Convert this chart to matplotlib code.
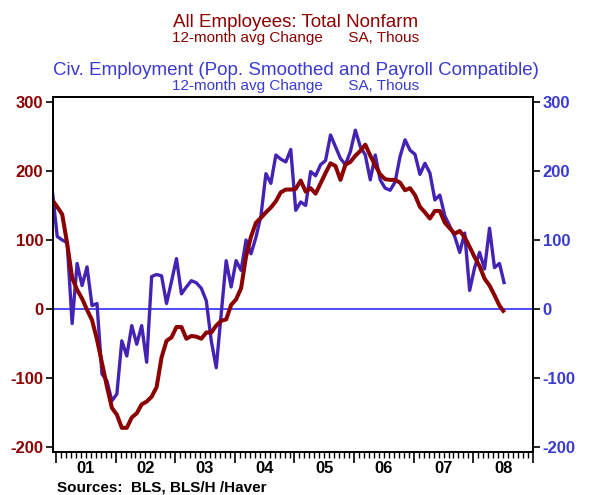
import numpy as np
import matplotlib
matplotlib.use("Agg")
import matplotlib.pyplot as plt
from matplotlib.transforms import blended_transform_factory

# Monthly data, Dec 2000 .. Jul 2008 (12-month avg change, SA, thous)
start_year = 2000
start_month = 12
nonfarm = [158, 148, 137, 95, 45, 28, 15, -1, -16, -44, -78, -112, -143,
           -153, -172, -172, -157, -151, -138, -134, -127, -113, -70, -46, -41,
           -26, -26, -43, -39, -40, -43, -34, -34, -24, -17, -15, 6,
           14, 30, 76, 105, 125, 132, 140, 147, 156, 169, 173, 173,
           174, 186, 170, 175, 167, 182, 197, 211, 207, 187, 209, 213,
           222, 229, 238, 222, 208, 195, 188, 187, 187, 183, 172, 175,
           165, 148, 140, 131, 142, 142, 125, 117, 109, 113, 104, 90,
           75, 62, 44, 34, 20, 5, -5]
civ_emp = [172, 105, 100, 96, -21, 66, 34, 61, 5, 8, -94, -104, -133,
           -123, -46, -68, -24, -51, -24, -77, 47, 50, 48, 8, 40,
           73, 22, 32, 41, 38, 30, 12, -46, -85, -7, 70, 32,
           70, 56, 100, 80, 104, 135, 196, 182, 223, 217, 213, 231,
           143, 155, 150, 199, 193, 209, 215, 252, 235, 218, 209, 228,
           259, 235, 223, 187, 223, 187, 175, 172, 184, 221, 245, 230,
           224, 195, 211, 197, 158, 165, 135, 120, 105, 82, 110, 27,
           60, 82, 58, 117, 60, 66, 36]
year_labels = ["01", "02", "03", "04", "05", "06", "07", "08"]
y_ticks = [-200, -100, 0, 100, 200, 300]

n = len(nonfarm)
months = np.arange(n)
t = start_year + (start_month - 1 + months + 0.25) / 12.0

RED = "#8B0000"
BLUE_LINE = "#4423B4"
BLUE_TXT = "#3A3AD0"
ZERO = "#2E2EFF"

plt.rcParams['font.family'] = ['Liberation Sans', 'DejaVu Sans']

fig = plt.figure(figsize=(5.92, 4.95), dpi=100)
ax = fig.add_axes([53 / 592, 43 / 495, 480 / 592, 355 / 495])

ax.axhline(0, color=ZERO, lw=1.2, zorder=1)
ax.plot(t, civ_emp, color=BLUE_LINE, lw=2.4, zorder=2, solid_capstyle='butt')
ax.plot(t, nonfarm, color=RED, lw=2.9, zorder=3, solid_capstyle='butt')

ax.set_xlim(2000.95, 2009.0)
ax.set_ylim(-207, 307)

ax.set_yticks(y_ticks)
ax.set_yticklabels([str(v) for v in y_ticks])
for lbl in ax.get_yticklabels():
    lbl.set_color(RED)
    lbl.set_fontweight('bold')
    lbl.set_fontsize(12)
ax.tick_params(axis='y', direction='out', length=5, width=1.2, pad=2)

ax2 = ax.twinx()
ax2.set_ylim(ax.get_ylim())
ax2.set_yticks(y_ticks)
ax2.set_yticklabels([str(v) for v in y_ticks])
for lbl in ax2.get_yticklabels():
    lbl.set_color(BLUE_TXT)
    lbl.set_fontweight('bold')
    lbl.set_fontsize(12)
ax2.tick_params(axis='y', direction='out', length=5, width=1.2, pad=2)

years = np.arange(2001, 2010)
ax.set_xticks(years)
ax.set_xticklabels([''] * len(years))
ax.set_xticks(np.arange(2001, 2009, 1 / 12.0), minor=True)
ax.tick_params(axis='x', which='major', direction='out', length=8, width=1.2)
ax.tick_params(axis='x', which='minor', direction='out', length=4, width=1.0)

tr = blended_transform_factory(ax.transData, ax.transAxes)
for i, lab in enumerate(year_labels):
    ax.text(2001 + i + 0.5, -0.025, lab, transform=tr, ha='center', va='top',
            fontsize=12, fontweight='bold', color='black')

for a in (ax, ax2):
    for s in a.spines.values():
        s.set_linewidth(1.3)
        s.set_color('black')

fig.text(0.5, 1 - 27 / 495, "All Employees: Total Nonfarm", color=RED,
         ha='center', va='baseline', fontsize=13.5)
fig.text(0.5, 1 - 42 / 495, "12-month avg Change      SA, Thous", color=RED,
         ha='center', va='baseline', fontsize=11)
fig.text(0.5, 1 - 75 / 495, "Civ. Employment (Pop. Smoothed and Payroll Compatible)", color=BLUE_TXT,
         ha='center', va='baseline', fontsize=13.5)
fig.text(0.5, 1 - 90 / 495, "12-month avg Change      SA, Thous", color=BLUE_TXT,
         ha='center', va='baseline', fontsize=11)
fig.text(57 / 592, 1 - 491 / 495, "Sources:  BLS, BLS/H /Haver", color='black',
         ha='left', va='baseline', fontsize=11, fontweight='bold')

fig.savefig("out.png", dpi=100, facecolor='white')
